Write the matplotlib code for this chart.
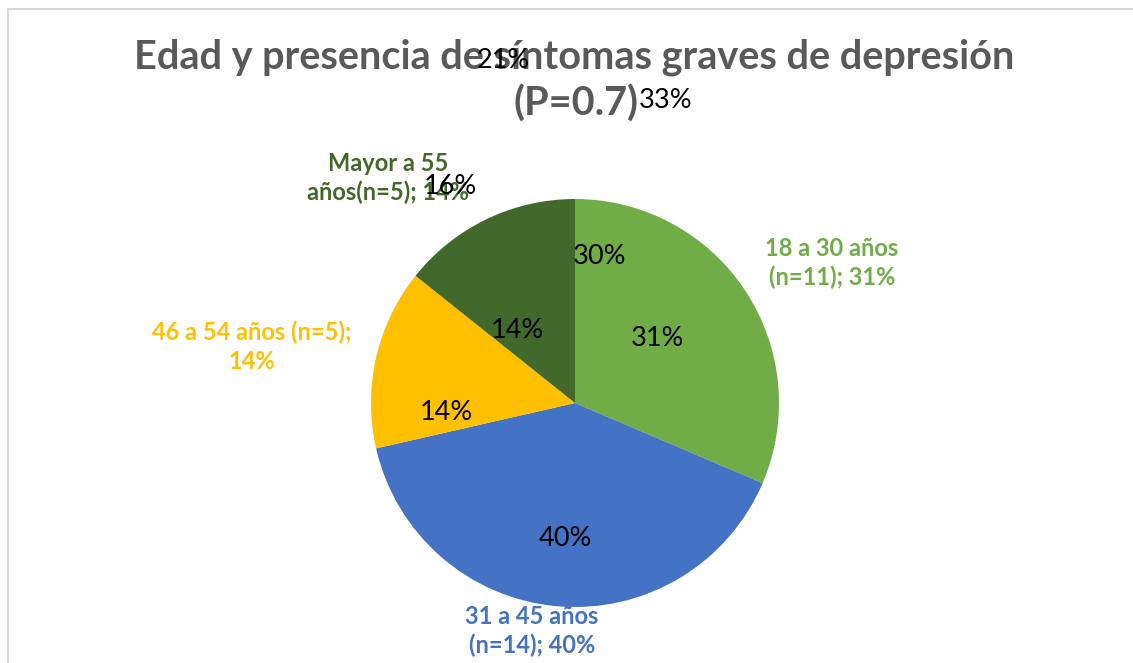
import matplotlib
matplotlib.use("Agg")
import matplotlib.pyplot as plt
from matplotlib.lines import Line2D

# datos
grupos = ["18 a 30 años", "31 a 45 años", "46 a 54 años", "Mayor a 55 años"]
n_vals = [11, 14, 5, 5]
pct_vals = [31, 40, 14, 14]
etiquetas = ["18 a 30 años\n(n=11); 31%", "31 a 45 años\n(n=14); 40%",
             "46 a 54 años (n=5);\n14%", "Mayor a 55\naños(n=5); 14%"]
colores = ["#70AD47", "#4472C4", "#FFC000", "#43682B"]
# etiquetas sueltas (en negro) que aparecen en el gráfico original
sueltas = ["21%", "33%", "16%", "30%", "14%", "31%", "14%", "40%"]

W, H = 1133, 663
fig = plt.figure(figsize=(W / 100, H / 100), dpi=100)
ax = fig.add_axes([0, 0, 1, 1])

plt.rcParams['font.family'] = ['Lato', 'DejaVu Sans']

cx, cy, r = 575, H - 403, 204
ax.pie(n_vals, colors=colores, startangle=90, counterclock=False,
       center=(cx, cy), radius=r, frame=True,
       wedgeprops=dict(linewidth=0))
ax.set_xlim(0, W)
ax.set_ylim(0, H)
ax.set_aspect("equal")
ax.axis("off")

# borde del área del gráfico
ax.add_line(Line2D([8, 8, W], [0, H - 8.5, H - 8.5], color="#D9D9D9", lw=1.5))

# titulo
ax.text(574, H - 57, "Edad y presencia de síntomas graves de depresión",
        ha="center", va="center", fontsize=28.5, fontweight="bold",
        color="#595959")
ax.text(576, H - 104, "(P=0.7)",
        ha="center", va="center", fontsize=28.5, fontweight="bold",
        color="#595959")

# etiquetas de categoría
pos_etiq = [(832, 263), (532, 631), (252, 347), (388, 178)]
for txt, col, (x, y) in zip(etiquetas, colores, pos_etiq):
    ax.text(x, H - y, txt, ha="center", va="center", fontsize=17,
            fontweight="bold", color=col, linespacing=1.3)

# etiquetas negras
pos_sueltas = [(503, 60), (666, 100), (450, 186), (600, 257),
               (517, 330), (657, 338), (446, 413), (565, 538)]
for txt, (x, y) in zip(sueltas, pos_sueltas):
    ax.text(x, H - y, txt, ha="center", va="center", fontsize=19.5,
            color="black")

fig.savefig("out.png", dpi=100)
